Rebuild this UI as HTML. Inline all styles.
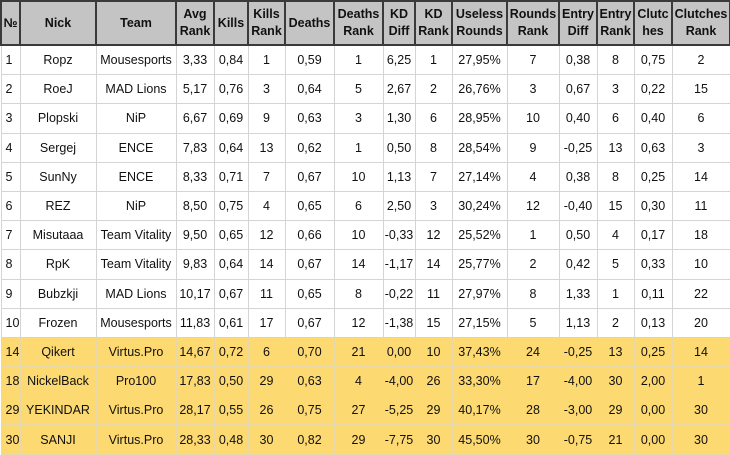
<!DOCTYPE html>
<html><head><meta charset="utf-8"><style>
html,body{margin:0;padding:0;background:#fff;width:730px;height:455px;overflow:hidden}
table{border-collapse:collapse;table-layout:fixed;width:730px;font-family:"Liberation Sans",Arial,sans-serif;font-size:12.5px;color:#111}
th{background:#c4c4c4;border:2px solid #3a3a3a;font-weight:bold;height:42px;padding:0;line-height:17px;text-align:center}
td{border:1px solid #d4d4d4;height:28.2px;padding:0;text-align:center;white-space:nowrap}
td:first-child{text-align:left;padding-left:4px}
tr.y td{background:#fcd971;border-color:#e8d7a8}
</style></head><body>
<table>
<colgroup><col style="width:19px"><col style="width:76px"><col style="width:80px"><col style="width:38px"><col style="width:34px"><col style="width:37px"><col style="width:49px"><col style="width:49px"><col style="width:32px"><col style="width:37px"><col style="width:55px"><col style="width:52px"><col style="width:38px"><col style="width:37px"><col style="width:38px"><col style="width:58px"></colgroup>
<thead><tr>
<th>№</th><th>Nick</th><th>Team</th><th>Avg Rank</th><th>Kills</th><th>Kills Rank</th><th>Deaths</th><th>Deaths Rank</th><th>KD Diff</th><th>KD Rank</th><th>Useless Rounds</th><th>Rounds Rank</th><th>Entry Diff</th><th>Entry Rank</th><th>Clutc hes</th><th>Clutches Rank</th>
</tr></thead>
<tbody>
<tr><td>1</td><td>Ropz</td><td>Mousesports</td><td>3,33</td><td>0,84</td><td>1</td><td>0,59</td><td>1</td><td>6,25</td><td>1</td><td>27,95%</td><td>7</td><td>0,38</td><td>8</td><td>0,75</td><td>2</td></tr>
<tr><td>2</td><td>RoeJ</td><td>MAD Lions</td><td>5,17</td><td>0,76</td><td>3</td><td>0,64</td><td>5</td><td>2,67</td><td>2</td><td>26,76%</td><td>3</td><td>0,67</td><td>3</td><td>0,22</td><td>15</td></tr>
<tr><td>3</td><td>Plopski</td><td>NiP</td><td>6,67</td><td>0,69</td><td>9</td><td>0,63</td><td>3</td><td>1,30</td><td>6</td><td>28,95%</td><td>10</td><td>0,40</td><td>6</td><td>0,40</td><td>6</td></tr>
<tr><td>4</td><td>Sergej</td><td>ENCE</td><td>7,83</td><td>0,64</td><td>13</td><td>0,62</td><td>1</td><td>0,50</td><td>8</td><td>28,54%</td><td>9</td><td>-0,25</td><td>13</td><td>0,63</td><td>3</td></tr>
<tr><td>5</td><td>SunNy</td><td>ENCE</td><td>8,33</td><td>0,71</td><td>7</td><td>0,67</td><td>10</td><td>1,13</td><td>7</td><td>27,14%</td><td>4</td><td>0,38</td><td>8</td><td>0,25</td><td>14</td></tr>
<tr><td>6</td><td>REZ</td><td>NiP</td><td>8,50</td><td>0,75</td><td>4</td><td>0,65</td><td>6</td><td>2,50</td><td>3</td><td>30,24%</td><td>12</td><td>-0,40</td><td>15</td><td>0,30</td><td>11</td></tr>
<tr><td>7</td><td>Misutaaa</td><td>Team Vitality</td><td>9,50</td><td>0,65</td><td>12</td><td>0,66</td><td>10</td><td>-0,33</td><td>12</td><td>25,52%</td><td>1</td><td>0,50</td><td>4</td><td>0,17</td><td>18</td></tr>
<tr><td>8</td><td>RpK</td><td>Team Vitality</td><td>9,83</td><td>0,64</td><td>14</td><td>0,67</td><td>14</td><td>-1,17</td><td>14</td><td>25,77%</td><td>2</td><td>0,42</td><td>5</td><td>0,33</td><td>10</td></tr>
<tr><td>9</td><td>Bubzkji</td><td>MAD Lions</td><td>10,17</td><td>0,67</td><td>11</td><td>0,65</td><td>8</td><td>-0,22</td><td>11</td><td>27,97%</td><td>8</td><td>1,33</td><td>1</td><td>0,11</td><td>22</td></tr>
<tr><td>10</td><td>Frozen</td><td>Mousesports</td><td>11,83</td><td>0,61</td><td>17</td><td>0,67</td><td>12</td><td>-1,38</td><td>15</td><td>27,15%</td><td>5</td><td>1,13</td><td>2</td><td>0,13</td><td>20</td></tr>
<tr class="y"><td>14</td><td>Qikert</td><td>Virtus.Pro</td><td>14,67</td><td>0,72</td><td>6</td><td>0,70</td><td>21</td><td>0,00</td><td>10</td><td>37,43%</td><td>24</td><td>-0,25</td><td>13</td><td>0,25</td><td>14</td></tr>
<tr class="y"><td>18</td><td>NickelBack</td><td>Pro100</td><td>17,83</td><td>0,50</td><td>29</td><td>0,63</td><td>4</td><td>-4,00</td><td>26</td><td>33,30%</td><td>17</td><td>-4,00</td><td>30</td><td>2,00</td><td>1</td></tr>
<tr class="y"><td>29</td><td>YEKINDAR</td><td>Virtus.Pro</td><td>28,17</td><td>0,55</td><td>26</td><td>0,75</td><td>27</td><td>-5,25</td><td>29</td><td>40,17%</td><td>28</td><td>-3,00</td><td>29</td><td>0,00</td><td>30</td></tr>
<tr class="y"><td>30</td><td>SANJI</td><td>Virtus.Pro</td><td>28,33</td><td>0,48</td><td>30</td><td>0,82</td><td>29</td><td>-7,75</td><td>30</td><td>45,50%</td><td>30</td><td>-0,75</td><td>21</td><td>0,00</td><td>30</td></tr>
</tbody></table>
</body></html>
